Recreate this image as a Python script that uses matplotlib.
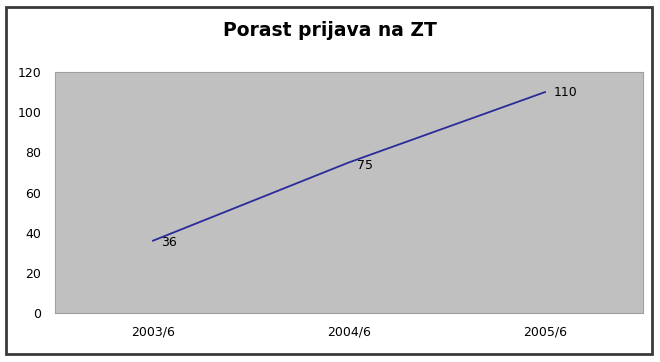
import matplotlib.pyplot as plt
from matplotlib.patches import Rectangle

periods = ["2003/6", "2004/6", "2005/6"]
prijave = [36, 75, 110]
y_ticks = [0, 20, 40, 60, 80, 100, 120]

fig = plt.figure(figsize=(6.6, 3.62), dpi=100)
fig.patch.set_facecolor("white")

# outer chart frame
fig.add_artist(Rectangle((6 / 660, 8 / 362), 646 / 660, 347 / 362,
                         transform=fig.transFigure, fill=False,
                         edgecolor="#3a3a3a", lw=2.0))

ax = fig.add_axes([55 / 660, 1 - 313 / 362, 588 / 660, 241 / 362])
ax.set_facecolor("#c0c0c0")
x = range(len(periods))
ax.plot(x, prijave, color="#2a2a9a", lw=1.3)

offsets = [(6, -1), (6, -2), (6, 0)]
for xi, v, off in zip(x, prijave, offsets):
    ax.annotate(str(v), (xi, v), xytext=off, textcoords="offset points",
                ha="left", va="center", fontsize=9, color="black")

ax.set_xlim(-0.5, len(periods) - 0.5)
ax.set_ylim(0, 120)
ax.set_yticks(y_ticks)
ax.set_xticks(list(x))
ax.set_xticklabels(periods)
ax.tick_params(axis="both", length=0, labelsize=9, pad=9)
ax.tick_params(axis="y", pad=10)
for s in ax.spines.values():
    s.set_color("#a0a0a0")
    s.set_linewidth(0.8)

fig.text(0.5, 1 - 30 / 362, "Porast prijava na ZT", ha="center", va="center",
         fontsize=13.5, fontweight="bold")

fig.savefig("out.png", dpi=100)
